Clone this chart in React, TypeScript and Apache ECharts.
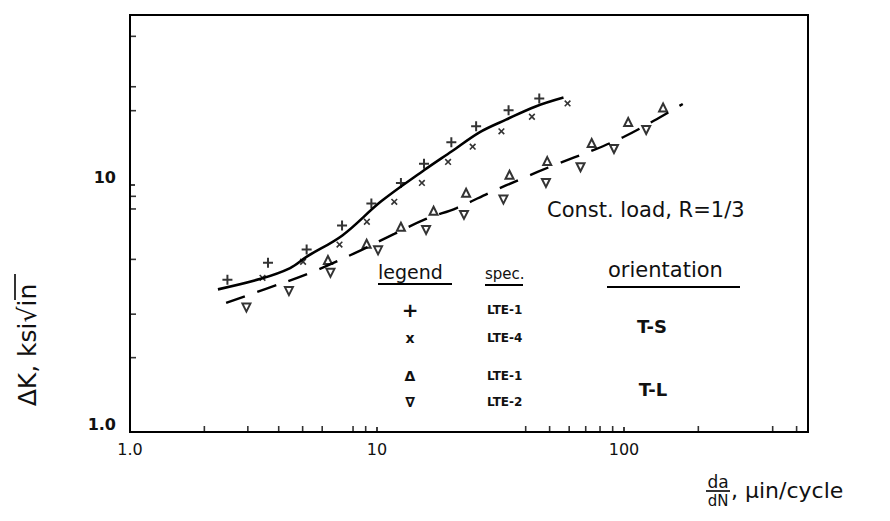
import React, { useEffect, useRef } from "react";
import * as echarts from "echarts";

// ---- data (log-log axes) ----
const X_MIN = 1;
const X_MAX = 556;
const Y_MIN = 1;
const Y_MAX = 48.8;

const X_TICK_LABELS: Record<string, string> = { "1": "1.0", "10": "10", "100": "100" };
const Y_TICK_LABELS: Record<string, string> = { "1": "1.0", "10": "10" };

const X_MINOR = [2, 3, 4, 5, 6, 8, 9, 40, 50, 60, 70, 80, 90, 200, 400, 500];
const Y_MINOR = [2, 3, 5, 8, 9, 20, 25, 40];

// LTE-1, T-S (+)
const PLUS_LTE1_TS = [
  [2.48, 4.13], [3.62, 4.85], [5.19, 5.48], [7.22, 6.86], [9.49, 8.41], [12.5, 10.2],
  [15.5, 12.2], [20.0, 14.9], [25.2, 17.3], [34.1, 20.1], [45.4, 22.4],
];
// LTE-4, T-S (x)
const CROSS_LTE4_TS = [
  [3.44, 4.21], [5.02, 4.89], [7.05, 5.74], [9.1, 7.1], [11.75, 8.55], [15.2, 10.2],
  [19.4, 12.4], [24.4, 14.3], [31.9, 16.5], [42.4, 18.9], [59.1, 21.4],
];
// LTE-1, T-L (triangle up)
const TRIUP_LTE1_TL = [
  [6.33, 4.97], [9.08, 5.78], [12.5, 6.78], [16.95, 7.87], [22.95, 9.31], [34.4, 11.0],
  [48.9, 12.5], [74.0, 14.8], [104, 18.0], [144, 20.6],
];
// LTE-2, T-L (triangle down)
const TRIDOWN_LTE2_TL = [
  [2.96, 3.19], [4.4, 3.72], [6.48, 4.41], [10.1, 5.44], [15.8, 6.58], [22.5, 7.57],
  [32.5, 8.73], [48.3, 10.2], [66.7, 11.8], [91.1, 14.0], [123, 16.7],
];
// fitted curves
const TS_CURVE = [
  [2.27, 3.78], [3.38, 4.17], [4.45, 4.61], [5.2, 5.13], [7.24, 6.25], [10.4, 8.59],
  [15.55, 11.5], [20.1, 13.7], [26.0, 16.35], [33.3, 18.4], [43.9, 20.8], [56.9, 22.6],
];
const TL_CURVE = [
  [2.45, 3.33], [3.55, 3.8], [5.28, 4.38], [8.13, 5.3], [11.75, 6.34], [15.8, 7.29],
  [21.0, 8.07], [29.0, 9.37], [38.2, 10.57], [52.3, 12.05], [75.6, 13.88], [99.6, 15.65],
  [132, 18.2], [173, 21.3],
];

const LEGEND_ROWS = [
  { mark: "+", spec: "LTE-1" },
  { mark: "x", spec: "LTE-4" },
  { mark: "Δ", spec: "LTE-1" },
  { mark: "∇", spec: "LTE-2" },
];

const PLUS_PATH = "path://M4,0H6V4H10V6H6V10H4V6H0V4H4Z";
const FONT = "'DejaVu Sans', 'Noto Sans', sans-serif";
const INK = "#111";

function fmt(map: Record<string, string>) {
  return (v: number) => {
    for (const k of Object.keys(map)) {
      if (Math.abs(v - Number(k)) < 1e-6 * Number(k)) return map[k];
    }
    return "";
  };
}

export default function App() {
  const ref = useRef<HTMLDivElement>(null);

  useEffect(() => {
    if (!ref.current) return;
    const chart = echarts.init(ref.current, undefined, { renderer: "svg" });

    const legendTexts: any[] = [];
    const rowY = [310, 338, 376, 402];
    LEGEND_ROWS.forEach((r, i) => {
      legendTexts.push({
        type: "text",
        x: 410,
        y: rowY[i],
        style: {
          text: r.mark,
          fill: INK,
          fontFamily: FONT,
          fontSize: r.mark === "+" ? 20 : 14,
          fontWeight: "bold",
          align: "center",
          verticalAlign: "middle",
        },
      });
      legendTexts.push({
        type: "text",
        x: 487,
        y: rowY[i],
        style: {
          text: r.spec,
          fill: INK,
          fontFamily: FONT,
          fontSize: 12,
          fontWeight: "bold",
          align: "left",
          verticalAlign: "middle",
        },
      });
    });

    const option: any = {
      animation: false,
      backgroundColor: "#fff",
      grid: {
        left: 130,
        top: 15,
        width: 678,
        height: 417,
        show: true,
        borderColor: "#000",
        borderWidth: 2,
        backgroundColor: "transparent",
      },
      xAxis: {
        type: "log",
        logBase: 10,
        min: X_MIN,
        max: X_MAX,
        axisLine: { show: true, lineStyle: { color: "#000", width: 2 } },
        axisTick: { show: true, inside: true, length: 5, lineStyle: { color: "#000", width: 1.5 } },
        splitLine: { show: false },
        axisLabel: {
          formatter: fmt(X_TICK_LABELS),
          color: INK,
          fontFamily: FONT,
          fontSize: 16,
          margin: 9,
          showMaxLabel: false,
        },
      },
      yAxis: {
        type: "log",
        logBase: 10,
        min: Y_MIN,
        max: Y_MAX,
        axisLine: { show: true, lineStyle: { color: "#000", width: 2 } },
        axisTick: { show: true, inside: true, length: 5, lineStyle: { color: "#000", width: 1.5 } },
        splitLine: { show: false },
        axisLabel: {
          formatter: fmt(Y_TICK_LABELS),
          color: INK,
          fontFamily: FONT,
          fontSize: 16,
          fontWeight: "bold",
          margin: 14,
          verticalAlign: "bottom",
          showMaxLabel: false,
        },
      },
      series: [
        {
          type: "line",
          name: "T-S fit",
          data: TS_CURVE,
          smooth: 0.35,
          showSymbol: false,
          silent: true,
          lineStyle: { color: "#000", width: 2.6 },
        },
        {
          type: "line",
          name: "T-L fit",
          data: TL_CURVE,
          smooth: 0.35,
          showSymbol: false,
          silent: true,
          lineStyle: { color: "#000", width: 2.4, type: [20, 13] },
        },
        {
          type: "scatter",
          name: "LTE-1 T-S",
          data: PLUS_LTE1_TS,
          symbol: PLUS_PATH,
          symbolSize: 10,
          itemStyle: { color: "#000" },
        },
        {
          type: "scatter",
          name: "LTE-4 T-S",
          data: CROSS_LTE4_TS,
          symbol: PLUS_PATH,
          symbolSize: 8,
          symbolRotate: 45,
          itemStyle: { color: "#000" },
        },
        {
          type: "scatter",
          name: "LTE-1 T-L",
          data: TRIUP_LTE1_TL,
          symbol: "triangle",
          symbolSize: 8,
          itemStyle: { color: "#fff", borderColor: "#000", borderWidth: 2 },
        },
        {
          type: "scatter",
          name: "LTE-2 T-L",
          data: TRIDOWN_LTE2_TL,
          symbol: "triangle",
          symbolSize: 8,
          symbolRotate: 180,
          itemStyle: { color: "#fff", borderColor: "#000", borderWidth: 2 },
        },
        {
          type: "scatter",
          name: "x minor ticks",
          data: X_MINOR.map((v) => [v, Y_MIN]),
          symbol: "rect",
          symbolSize: [1.6, 6],
          symbolOffset: [0, -3],
          silent: true,
          itemStyle: { color: "#000" },
        },
        {
          type: "scatter",
          name: "y minor ticks",
          data: Y_MINOR.map((v) => [X_MIN, v]),
          symbol: "rect",
          symbolSize: [6, 1.6],
          symbolOffset: [3, 0],
          silent: true,
          itemStyle: { color: "#000" },
        },
      ],
      graphic: [
        {
          type: "text",
          x: 547,
          y: 210,
          style: {
            text: "Const. load, R=1/3",
            fill: INK,
            fontFamily: FONT,
            fontSize: 21,
            align: "left",
            verticalAlign: "middle",
          },
        },
        {
          type: "text",
          x: 378,
          y: 272,
          style: { text: "legend", fill: INK, fontFamily: FONT, fontSize: 19, align: "left", verticalAlign: "middle" },
        },
        { type: "line", shape: { x1: 378, y1: 284, x2: 452, y2: 284 }, style: { stroke: "#000", lineWidth: 2 } },
        {
          type: "text",
          x: 485,
          y: 274,
          style: { text: "spec.", fill: INK, fontFamily: FONT, fontSize: 15, align: "left", verticalAlign: "middle" },
        },
        { type: "line", shape: { x1: 485, y1: 285, x2: 523, y2: 285 }, style: { stroke: "#000", lineWidth: 2 } },
        {
          type: "text",
          x: 608,
          y: 270,
          style: { text: "orientation", fill: INK, fontFamily: FONT, fontSize: 21, align: "left", verticalAlign: "middle" },
        },
        { type: "line", shape: { x1: 607, y1: 287, x2: 740, y2: 287 }, style: { stroke: "#000", lineWidth: 2 } },
        ...legendTexts,
        {
          type: "text",
          x: 652,
          y: 326,
          style: { text: "T-S", fill: INK, fontFamily: FONT, fontSize: 18, fontWeight: "bold", align: "center", verticalAlign: "middle" },
        },
        {
          type: "text",
          x: 653,
          y: 389,
          style: { text: "T-L", fill: INK, fontFamily: FONT, fontSize: 18, fontWeight: "bold", align: "center", verticalAlign: "middle" },
        },
        {
          type: "text",
          x: 27,
          y: 345,
          rotation: Math.PI / 2,
          style: { text: "ΔK, ksi√in", fill: INK, fontFamily: FONT, fontSize: 25, align: "center", verticalAlign: "middle" },
        },
        { type: "line", shape: { x1: 15, y1: 274, x2: 15, y2: 300 }, style: { stroke: "#000", lineWidth: 1.6 } },
        {
          type: "text",
          x: 718,
          y: 482,
          style: { text: "da", fill: INK, fontFamily: FONT, fontSize: 17, align: "center", verticalAlign: "middle" },
        },
        { type: "line", shape: { x1: 706, y1: 491, x2: 730, y2: 491 }, style: { stroke: "#000", lineWidth: 1.6 } },
        {
          type: "text",
          x: 718,
          y: 501,
          style: { text: "dN", fill: INK, fontFamily: FONT, fontSize: 15, align: "center", verticalAlign: "middle" },
        },
        {
          type: "text",
          x: 731,
          y: 490,
          style: { text: ", μin/cycle", fill: INK, fontFamily: FONT, fontSize: 22, align: "left", verticalAlign: "middle" },
        },
      ],
    };

    chart.setOption(option);
    return () => chart.dispose();
  }, []);

  return (
    <div
      ref={ref}
      style={{ position: "fixed", left: 0, top: 0, width: 890, height: 521, background: "#fff" }}
    />
  );
}
